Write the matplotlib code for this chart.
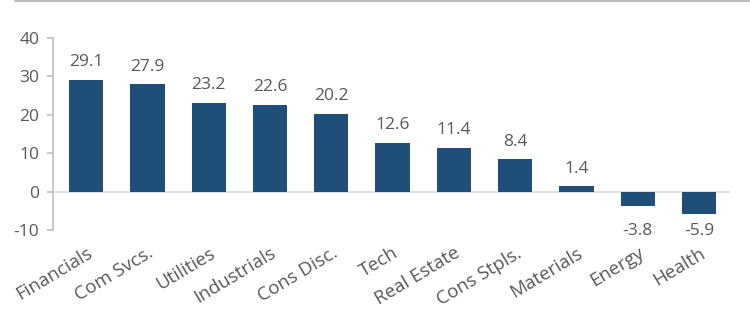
import matplotlib
matplotlib.use("Agg")
import matplotlib.pyplot as plt
from matplotlib.lines import Line2D

categories = ["Financials", "Com Svcs.", "Utilities", "Industrials", "Cons Disc.",
              "Tech", "Real Estate", "Cons Stpls.", "Materials", "Energy", "Health"]
values = [29.1, 27.9, 23.2, 22.6, 20.2, 12.6, 11.4, 8.4, 1.4, -3.8, -5.9]
yticks = [-10, 0, 10, 20, 30, 40]

plt.rcParams['font.family'] = ['Open Sans', 'DejaVu Sans']
txt = '#595959'

fig = plt.figure(figsize=(7.5, 3.18), dpi=100)
ax = fig.add_axes([0.0707, 0.2767, 0.9023, 0.6038])
x = list(range(len(categories)))
ax.bar(x, values, width=0.56, color='#1F4E79', zorder=3)
ax.axhline(0, color='#D9D9D9', lw=1.2, zorder=2)
ax.set_xlim(-0.54, 10.5)
ax.set_ylim(-10, 40)
ax.set_yticks(yticks)
ax.set_yticklabels([str(t) for t in yticks], fontsize=12.5, color=txt)
ax.set_xticks(x)
ax.set_xticklabels(categories, rotation=31, ha='right', rotation_mode='anchor',
                   fontsize=13.5, color=txt)
ax.tick_params(axis='x', length=0, pad=10)
ax.tick_params(axis='y', length=4, color='#BFBFBF', width=1.2, pad=6)
for s in ['top', 'right', 'bottom']:
    ax.spines[s].set_visible(False)
ax.spines['left'].set_color('#BFBFBF')
ax.spines['left'].set_linewidth(1.2)
neg_min = min(values)
for xi, v in zip(x, values):
    if v >= 0:
        ax.annotate(f"{v:.1f}", (xi, v), xytext=(0, 7), textcoords='offset points',
                    ha='center', va='bottom', fontsize=12.5, color=txt)
    else:
        ax.annotate(f"{v:.1f}", (xi, neg_min), xytext=(0, -6), textcoords='offset points',
                    ha='center', va='top', fontsize=12.5, color=txt)
fig.add_artist(Line2D([0.02, 1.0], [0.997, 0.997], transform=fig.transFigure,
                      color='#BFBFBF', lw=1.5))
fig.savefig("out.png", dpi=100)
